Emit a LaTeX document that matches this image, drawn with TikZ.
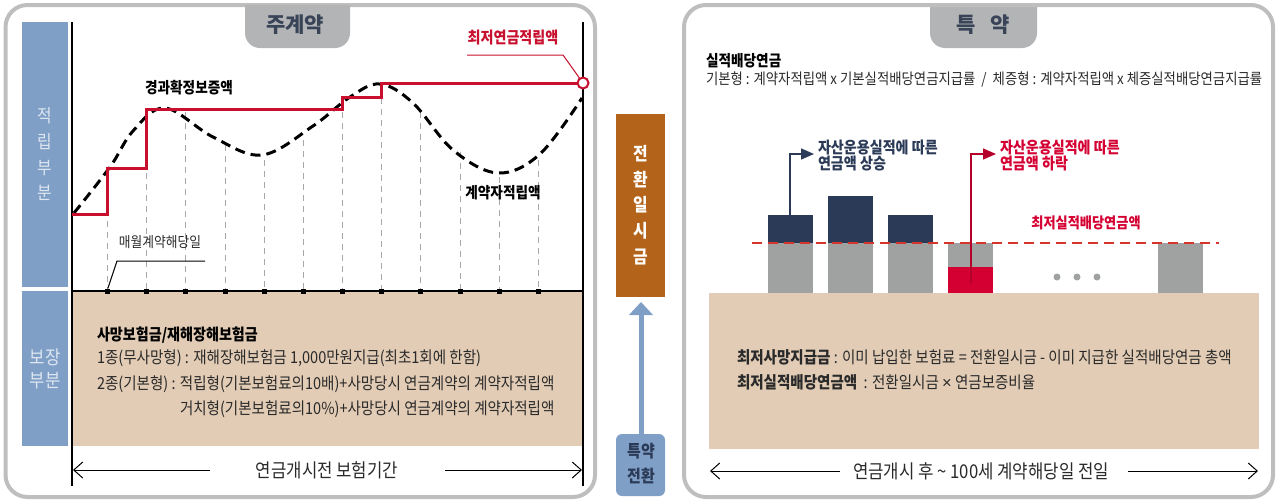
\documentclass[tikz,border=0pt]{standalone}
\usepackage{fontspec}
\setmainfont{Noto Sans CJK KR}[FakeStretch=0.88]
\newfontfamily\krwide{Noto Sans CJK KR}
\newfontfamily\latinf{Liberation Sans}
\usetikzlibrary{arrows.meta}
\newcommand\kfs[2]{\fontsize{#1pt}{#2pt}\selectfont}
\definecolor{panelgray}{HTML}{BEBEBE}
\definecolor{tabgray}{HTML}{B3B4B5}
\definecolor{titlecol}{HTML}{394458}
\definecolor{steel}{HTML}{7F9FC6}
\definecolor{steeltxt}{HTML}{DDE6F1}
\definecolor{beige}{HTML}{E2CCB5}
\definecolor{redline}{HTML}{C8102E}
\definecolor{orangebox}{HTML}{B4641A}
\definecolor{navy}{HTML}{2B3A56}
\definecolor{bargray}{HTML}{A0A2A2}
\definecolor{barred}{HTML}{D40032}
\definecolor{dashred}{HTML}{D6352B}
\definecolor{txt}{HTML}{2A2A2A}
\definecolor{gridgray}{HTML}{A8A8A8}
\begin{document}
\begin{tikzpicture}[x=1pt,y=-1pt,
  every node/.style={inner sep=0pt,outer sep=0pt},
  body/.style={font=\kfs{16.5}{20},text=txt,anchor=west},
  boldlbl/.style={font=\bfseries\kfs{15.5}{20},text=black},
  redlbl/.style={font=\bfseries\kfs{16}{20},text=redline},
  title/.style={font=\krwide\bfseries\kfs{21}{24},text=titlecol},
  panel/.style={draw=panelgray,line width=4,rounded corners=22},
  grid/.style={gridgray,line width=0.9,dash pattern=on 6 off 5},
  axis/.style={black,line width=1.2},
  span/.style={black,line width=1,-{Straight Barb[length=9pt,width=16pt,line width=1pt]}},
  tick/.style={fill=black,minimum size=5pt,inner sep=0pt},
  bar/.style={fill=bargray}
]
\useasboundingbox (0,0) rectangle (1279,501);

% ================= LEFT PANEL =================
\draw[panel] (5.5,5) rectangle (595,497);
\begin{scope}
  \clip (0,5) rectangle (1279,60);
  \fill[tabgray,rounded corners=15] (245,-30) rectangle (350,48);
  \fill[tabgray,rounded corners=15] (930,-30) rectangle (1037,48);
\end{scope}
\node[title] (t1) at (295,25) {주계약};

% blue side boxes
\fill[steel] (22,22) rectangle (68,287);
\fill[steel] (22,291) rectangle (68,446);
\node[font=\kfs{18}{25.7},text=steeltxt,align=center] (s1) at (45,154.5) {적\\립\\부\\분};
\node[font=\kfs{19}{23},text=steeltxt,align=center] (s2) at (45,369) {보장\\부분};

% beige area
\fill[beige] (72.5,291.5) rectangle (583,446);

% grid lines
\foreach \x/\t in {107/221,146/173,185/112,225/145,264/160,303/140,342/112,381/98,420/112,460/152,499/177,538/160}{
  \draw[grid] (\x,\t) -- (\x,289);
}

% axes
\draw[axis] (72,22) -- (72,486);
\draw[axis] (583,22) -- (583,486);
\draw[axis] (72,291) -- (583,291);

% ticks
\foreach \x [count=\i] in {107,146,185,225,264,303,342,381,420,460,499,538}{
  \node[tick] (tk\i) at (\x,291) {};
}

% contract reserve curve
\draw[black,line width=3,dash pattern=on 10 off 6] plot[smooth,tension=0.6] coordinates
 {(74,213) (110,167) (133,131) (165,108) (213,137) (262,155) (313,126) (350,97) (380,84) (413,103) (453,150) (498,173) (540,154) (582,98)};

% guaranteed step line
\draw[redline,line width=3] (72,214) -- (107,214) -- (107,168) -- (146,168) -- (146,109) -- (342,109) -- (342,97) -- (381,97) -- (381,83) -- (578,83);
\node[circle,draw=redline,fill=white,line width=2,minimum size=11pt] (mc) at (583,83) {};

% labels
\node[redlbl] (minlbl) at (513,38) {최저연금적립액};
\coordinate (ml1) at (467,55);
\coordinate (ml2) at (563,55);
\draw[redline,line width=1] (ml1) -- (ml2) -- (mc);
\node[boldlbl] (gl) at (189,88) {경과확정보증액};
\node[boldlbl] (cl) at (503,193) {계약자적립액};
\node[font=\kfs{14.5}{20},text=txt] (md) at (160,242) {매월계약해당일};
\coordinate (md1) at (205,261);
\coordinate (md2) at (117,261);
\draw[black,line width=1] (md1) -- (md2) -- (tk1);

% bottom texts
\node[body,font=\bfseries\kfs{16}{20},text=black] (b0) at (97,335) {사망보험금/재해장해보험금};
\node[body] (b1) at (97,358) {1종(무사망형) : 재해장해보험금 1,000만원지급(최초1회에 한함)};
\node[body] (b2) at (97,384) {2종(기본형) : 적립형(기본보험료의10배)+사망당시 연금계약의 계약자적립액};
\node[body] (b3) at (180,409) {거치형(기본보험료의10\%)+사망당시 연금계약의 계약자적립액};

\node[font=\kfs{19}{22},text=txt] (lp) at (327,470) {연금개시전 보험기간};
\coordinate (la1) at (210,470);
\coordinate (la2) at (73,470);
\coordinate (ra1) at (445,470);
\coordinate (ra2) at (582,470);
\draw[span] (la1) -- (la2);
\draw[span] (ra1) -- (ra2);

% ================= MIDDLE =================
\fill[orangebox] (616,114) rectangle (665,297);
\node[font=\bfseries\kfs{18}{25.75},text=white,align=center] (conv) at (641,205) {전\\환\\일\\시\\금};
\fill[steel] (638.5,314) rectangle (643.5,435);
\fill[steel] (629,315) -- (641,302) -- (653,315) -- cycle;
\fill[steel,rounded corners=6] (616,434) rectangle (665,496);
\node[font=\bfseries\kfs{17}{25},text=navy,align=center] (sw) at (641,464) {특약\\전환};

% ================= RIGHT PANEL =================
\draw[panel] (684,5) rectangle (1273,497);
\node[title] (t2) at (983,25) {특\hspace{15pt}약};

\node[body,font=\bfseries\kfs{15.5}{20},text=black] (r0) at (706,61) {실적배당연금};
\node[body,font=\kfs{15.2}{20}] (r1) at (706,80) {기본형 : 계약자적립액 x 기본실적배당연금지급률 \ / \ 체증형 : 계약자적립액 x 체증실적배당연금지급률};

% bars
\fill[bargray] (768,243) rectangle (813,293);
\fill[navy] (768,215) rectangle (813,243);
\fill[bargray] (828,243) rectangle (873,293);
\fill[navy] (828,196) rectangle (873,243);
\fill[bargray] (888,243) rectangle (933,293);
\fill[navy] (888,215) rectangle (933,243);
\fill[bargray] (948,243) rectangle (993,267);
\fill[barred] (948,267) rectangle (993,293);
\fill[bargray] (1158,243) rectangle (1203,293);
\foreach \x in {1057,1077,1097}{\fill[bargray] (\x,277) circle (3.5);}

% min line
\draw[dashred,line width=2.5,dash pattern=on 10 off 6] (752,243) -- (1219,243);
\node[font=\bfseries\kfs{15}{20},text=barred] (mr) at (1086,223) {최저실적배당연금액};

% up arrow
\coordinate (ua0) at (790,215);
\coordinate (ua1) at (790,154);
\coordinate (ua2) at (814,154);
\draw[navy,line width=1.5,-{Triangle[length=13pt,width=11pt]}] (ua0) -- (ua1) -- (ua2);
\node[font=\bfseries\kfs{16}{16},text=navy,align=left,anchor=west] (ul) at (818,156) {자산운용실적에 따른\\연금액 상승};

% down arrow
\coordinate (da0) at (971,283);
\coordinate (da1) at (971,154);
\coordinate (da2) at (996,154);
\draw[barred!85!black,line width=1.3,-{Triangle[length=13pt,width=11pt]}] (da0) -- (da1) -- (da2);
\node[font=\bfseries\kfs{16}{16},text=barred,align=left,anchor=west] (dl) at (1000,155) {자산운용실적에 따른\\연금액 하락};

% beige
\fill[beige] (709,293) rectangle (1259,449);
\node[body] (r2) at (737,357) {\textbf{최저사망지급금} : 이미 납입한 보험료 = 전환일시금 - 이미 지급한 실적배당연금 총액};
\node[body] (r3) at (737,382) {\textbf{최저실적배당연금액} \ : 전환일시금 {\latinf ×} 연금보증비율};

\node[font=\kfs{19}{22},text=txt] (rp) at (981,471) {연금개시 후 \textasciitilde{} 100세 계약해당일 전일};
\coordinate (rl1) at (840,471);
\coordinate (rl2) at (710,471);
\coordinate (rr1) at (1128,471);
\coordinate (rr2) at (1258,471);
\draw[span] (rl1) -- (rl2);
\draw[span] (rr1) -- (rr2);
\end{tikzpicture}
\end{document}
